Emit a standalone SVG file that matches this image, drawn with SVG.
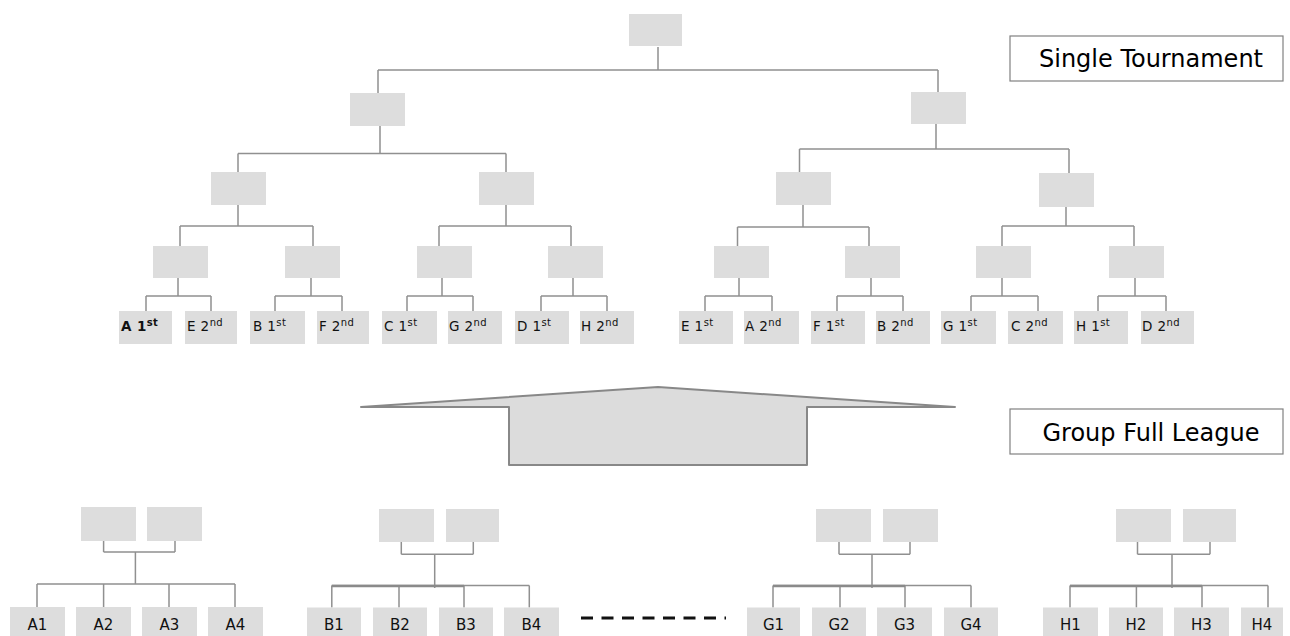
<svg xmlns="http://www.w3.org/2000/svg" width="1290" height="636" viewBox="0 0 1290 636">
<style>
.n{fill:#dddddd;stroke:none}
.c{fill:none;stroke:#909090;stroke-width:1.5}
.ct{fill:none;stroke:#8a8a8a;stroke-width:2.5}
.t{font-family:"DejaVu Sans",Verdana,sans-serif;font-size:13.5px;fill:#111;letter-spacing:0.4px}
.t tspan.s{font-size:10px}
.b{font-weight:bold}
.g{font-family:"DejaVu Sans",Verdana,sans-serif;font-size:15px;fill:#111;text-anchor:middle}
.lab{fill:#fff;stroke:#808080;stroke-width:1.2}
.lt{font-family:"DejaVu Sans",Verdana,sans-serif;font-size:24px;fill:#000;text-anchor:middle}
</style>
<rect width="1290" height="636" fill="#fff"/>
<g id="connectors">
<path class="c" d="M658 47V70M378 70H938M378 70V93M938 70V92"/>
<path class="c" d="M380 126V153.5M238 153.5H506M238 153.5V172M506 153.5V172"/>
<path class="c" d="M936 124V149M799.5 149H1069M799.5 149V172M1069 149V173"/>
<path class="c" d="M238 205V226M180 226H313M180 226V246M313 226V246"/>
<path class="c" d="M506 205V226M439 226H571M439 226V246M571 226V246"/>
<path class="c" d="M803 205V227M737.5 227H869M737.5 227V246M869 227V246"/>
<path class="c" d="M1066 207V226M1002 226H1134M1002 226V246M1134 226V246"/>
<path class="c" d="M178 278V296M146 296H211M146 296V311M211 296V311"/>
<path class="c" d="M311 278V296M275 296H342M275 296V311M342 296V311"/>
<path class="c" d="M442 278V296M407 296H473M407 296V311M473 296V311"/>
<path class="c" d="M573 278V296M541 296H607M541 296V311M607 296V311"/>
<path class="c" d="M739 278V296M705 296H772M705 296V311M772 296V311"/>
<path class="c" d="M871 278V296M837 296H903M837 296V311M903 296V311"/>
<path class="c" d="M1002 278V296M971 296H1038M971 296V311M1038 296V311"/>
<path class="c" d="M1135 278V296M1098 296H1166M1098 296V311M1166 296V311"/>
<path class="c" d="M103.6 541V552M175 541V552M103.6 552H175M135.4 552V584M37 584H235M37 584V607M103.6 584V607M169 584V607M235 584V607"/>
<path class="c" d="M401.3 542V554.3M473.3 542V554.3M401.3 554.3H473.3M434.7 554.3V588M331.8 585.5H529.3M331.8 585.5V607.5M399 585.5V607.5M464 585.5V607.5M529.3 585.5V607.5"/>
<path class="ct" d="M331.8 586H464"/>
<path class="c" d="M839 542V554.3M910 542V554.3M839 554.3H910M872 554.3V588M773 585.5H971M773 585.5V607.5M840 585.5V607.5M905 585.5V607.5M971 585.5V607.5"/>
<path class="ct" d="M773 586H905"/>
<path class="c" d="M1137.5 542V554.3M1210 542V554.3M1137.5 554.3H1210M1172 554.3V588M1070 585.5H1268M1070 585.5V607.5M1136.4 585.5V607.5M1202 585.5V607.5M1268 585.5V607.5"/>
<path class="ct" d="M1070 586H1202"/>
<path d="M581 618H726" fill="none" stroke="#111" stroke-width="3" stroke-dasharray="12 8.5"/>
</g>
<g id="tournament">
<g id="final"><rect class="n" x="629" y="14" width="53" height="32"/></g>
<g id="semi-l"><rect class="n" x="350" y="93" width="55" height="33"/></g>
<g id="semi-r"><rect class="n" x="911" y="92" width="55" height="32"/></g>
<g id="qf-1"><rect class="n" x="211" y="172" width="55" height="33"/></g>
<g id="qf-2"><rect class="n" x="479" y="172" width="55" height="33"/></g>
<g id="qf-3"><rect class="n" x="776" y="172" width="55" height="33"/></g>
<g id="qf-4"><rect class="n" x="1039" y="173" width="55" height="34"/></g>
<g id="r16-1"><rect class="n" x="153" y="246" width="55" height="32"/></g>
<g id="r16-2"><rect class="n" x="285" y="246" width="55" height="32"/></g>
<g id="r16-3"><rect class="n" x="417" y="246" width="55" height="32"/></g>
<g id="r16-4"><rect class="n" x="548" y="246" width="55" height="32"/></g>
<g id="r16-5"><rect class="n" x="714" y="246" width="55" height="32"/></g>
<g id="r16-6"><rect class="n" x="845" y="246" width="55" height="32"/></g>
<g id="r16-7"><rect class="n" x="976" y="246" width="55" height="32"/></g>
<g id="r16-8"><rect class="n" x="1109" y="246" width="55" height="32"/></g>
<g id="l-a1"><rect class="n" x="119" y="311" width="53" height="33"/><text class="t b" x="121" y="331">A 1<tspan class="s" dy="-5">st</tspan></text></g>
<g id="l-e2"><rect class="n" x="185" y="311" width="52" height="33"/><text class="t" x="187" y="331">E 2<tspan class="s" dy="-5">nd</tspan></text></g>
<g id="l-b1"><rect class="n" x="250" y="311" width="55" height="33"/><text class="t" x="253" y="331">B 1<tspan class="s" dy="-5">st</tspan></text></g>
<g id="l-f2"><rect class="n" x="317" y="311" width="52" height="33"/><text class="t" x="319" y="331">F 2<tspan class="s" dy="-5">nd</tspan></text></g>
<g id="l-c1"><rect class="n" x="382" y="311" width="55" height="33"/><text class="t" x="384" y="331">C 1<tspan class="s" dy="-5">st</tspan></text></g>
<g id="l-g2"><rect class="n" x="448" y="311" width="54" height="33"/><text class="t" x="449" y="331">G 2<tspan class="s" dy="-5">nd</tspan></text></g>
<g id="l-d1"><rect class="n" x="515" y="311" width="54" height="33"/><text class="t" x="517" y="331">D 1<tspan class="s" dy="-5">st</tspan></text></g>
<g id="l-h2"><rect class="n" x="580" y="311" width="54" height="33"/><text class="t" x="581" y="331">H 2<tspan class="s" dy="-5">nd</tspan></text></g>
<g id="l-e1"><rect class="n" x="679" y="311" width="54" height="33"/><text class="t" x="681" y="331">E 1<tspan class="s" dy="-5">st</tspan></text></g>
<g id="l-a2"><rect class="n" x="744" y="311" width="55" height="33"/><text class="t" x="745" y="331">A 2<tspan class="s" dy="-5">nd</tspan></text></g>
<g id="l-f1"><rect class="n" x="811" y="311" width="54" height="33"/><text class="t" x="813" y="331">F 1<tspan class="s" dy="-5">st</tspan></text></g>
<g id="l-b2"><rect class="n" x="876" y="311" width="54" height="33"/><text class="t" x="877" y="331">B 2<tspan class="s" dy="-5">nd</tspan></text></g>
<g id="l-g1"><rect class="n" x="941" y="311" width="55" height="33"/><text class="t" x="943" y="331">G 1<tspan class="s" dy="-5">st</tspan></text></g>
<g id="l-c2"><rect class="n" x="1008" y="311" width="55" height="33"/><text class="t" x="1011" y="331">C 2<tspan class="s" dy="-5">nd</tspan></text></g>
<g id="l-h1"><rect class="n" x="1074" y="311" width="54" height="33"/><text class="t" x="1076" y="331">H 1<tspan class="s" dy="-5">st</tspan></text></g>
<g id="l-d2"><rect class="n" x="1141" y="311" width="53" height="33"/><text class="t" x="1142" y="331">D 2<tspan class="s" dy="-5">nd</tspan></text></g>
</g>
<g id="arrow-shape">
<path d="M361 407L658 387L955 407H807V465H509V407Z" fill="#dcdcdc" stroke="#888" stroke-width="2" stroke-linejoin="round"/>
</g>
<g id="label-single">
<rect class="lab" x="1010" y="36" width="273" height="45"/>
<text class="lt" x="1151" y="67">Single Tournament</text>
</g>
<g id="label-group">
<rect class="lab" x="1010" y="409" width="273" height="45"/>
<text class="lt" x="1151" y="441">Group Full League</text>
</g>
<g id="group-a">
<rect class="n" x="81" y="507" width="55" height="34"/>
<rect class="n" x="147" y="507" width="55" height="34"/>
<rect class="n" x="10" y="607" width="55" height="33"/><text class="g" x="37.5" y="630">A1</text>
<rect class="n" x="76" y="607" width="55" height="33"/><text class="g" x="103.5" y="630">A2</text>
<rect class="n" x="142" y="607" width="55" height="33"/><text class="g" x="169.5" y="630">A3</text>
<rect class="n" x="208" y="607" width="55" height="33"/><text class="g" x="235.5" y="630">A4</text>
</g>
<g id="group-b">
<rect class="n" x="379" y="509" width="55" height="33"/>
<rect class="n" x="446" y="509" width="53" height="33"/>
<rect class="n" x="307" y="607.5" width="54" height="33"/><text class="g" x="334" y="630">B1</text>
<rect class="n" x="373" y="607.5" width="54" height="33"/><text class="g" x="400" y="630">B2</text>
<rect class="n" x="439" y="607.5" width="54" height="33"/><text class="g" x="466" y="630">B3</text>
<rect class="n" x="504" y="607.5" width="55" height="33"/><text class="g" x="531.5" y="630">B4</text>
</g>
<g id="group-g">
<rect class="n" x="816" y="509" width="55" height="33"/>
<rect class="n" x="883" y="509" width="55" height="33"/>
<rect class="n" x="747" y="607.5" width="53" height="33"/><text class="g" x="773.5" y="630">G1</text>
<rect class="n" x="812" y="607.5" width="54" height="33"/><text class="g" x="839" y="630">G2</text>
<rect class="n" x="877" y="607.5" width="55" height="33"/><text class="g" x="904.5" y="630">G3</text>
<rect class="n" x="944" y="607.5" width="54" height="33"/><text class="g" x="971" y="630">G4</text>
</g>
<g id="group-h">
<rect class="n" x="1116" y="509" width="55" height="33"/>
<rect class="n" x="1183" y="509" width="53" height="33"/>
<rect class="n" x="1043" y="607.5" width="55" height="33"/><text class="g" x="1070.5" y="630">H1</text>
<rect class="n" x="1109" y="607.5" width="54" height="33"/><text class="g" x="1136" y="630">H2</text>
<rect class="n" x="1174" y="607.5" width="55" height="33"/><text class="g" x="1201.5" y="630">H3</text>
<rect class="n" x="1241" y="607.5" width="42" height="33"/><text class="g" x="1262" y="630">H4</text>
</g>
</svg>
